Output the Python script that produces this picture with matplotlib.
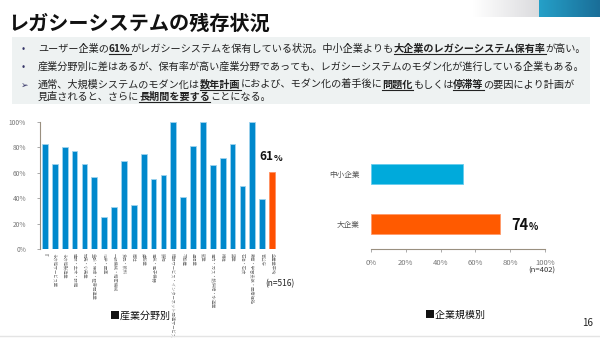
import matplotlib
matplotlib.use("Agg")
import matplotlib.pyplot as plt
import numpy as np

plt.rcParams['font.family'] = ['Noto Sans CJK JP', 'DejaVu Sans']

# 産業分野別 (n=516)
industries = ["IT", "その他サービス業", "その他製造業", "建設・土木・設備", "卸売・小売業",
              "金融・保険・証券関連業", "化学・医薬", "一般機械・精密機械", "食品・飲料", "商社",
              "運輸業", "電気・電子機器", "鉄鋼", "情報サービス・インターネット関連サービス",
              "不動産", "通信業", "鉱業", "電力・ガス・熱供給・水道業", "繊維", "窯業",
              "石油・石炭", "教育・学習支援・医療福祉", "官公庁", "全産業平均"]
industry_rates = [83, 67, 80, 77, 67, 57, 25, 33, 69, 35, 75, 55, 58, 100,
                  41, 81, 100, 66, 72, 83, 50, 100, 39, 61]

# 企業規模別 (n=402)
sizes = ["大企業", "中小企業"]
size_rates = [74, 53]

pct_ticks = [0, 20, 40, 60, 80, 100]

W, H = 600, 338
fig = plt.figure(figsize=(6, 3.38), dpi=100)
fig.patch.set_facecolor("white")


def fx(px):
    return px / W


def fy(py):
    return 1 - py / H


# top-right decoration
deco = fig.add_axes([fx(473), fy(17), fx(66), 17 / H])
grad = np.linspace(0, 1, 100)
deco.imshow(np.dstack([1 - 0.14 * grad, 1 - 0.14 * grad, 1 - 0.13 * grad]),
            aspect="auto", extent=[0, 1, 0, 1])
deco.axis("off")
deco2 = fig.add_axes([fx(539), fy(17), fx(61), 17 / H])
c1 = np.array([0x25, 0xA0, 0xC8]) / 255
c2 = np.array([0x1A, 0x6E, 0x98]) / 255
deco2.imshow((c1[None, :] * (1 - grad[:, None]) + c2[None, :] * grad[:, None])[None, :, :],
             aspect="auto", extent=[0, 1, 0, 1])
deco2.axis("off")

# title
fig.text(fx(8), fy(23), "レガシーシステムの残存状況", fontsize=14.5, fontweight="bold",
         va="center", ha="left", color="#111111")

# gray box
fig.patches.append(plt.Rectangle((fx(12), fy(104)), fx(578), 67 / H, transform=fig.transFigure,
                                 facecolor="#EEF2F2", edgecolor="none", zorder=0))

renderer = fig.canvas.get_renderer()


def rich_line(x, y, parts, size=7.3):
    for s, bold in parts:
        t = fig.text(fx(x), fy(y), s, fontsize=size, fontweight="bold" if bold else "normal",
                     va="baseline", ha="left", color="#222222")
        bb = t.get_window_extent(renderer)
        if bold:
            fig.lines.append(plt.Line2D([fx(x), fx(x + bb.width)], [fy(y + 2), fy(y + 2)],
                                        transform=fig.transFigure, color="#222222", lw=0.8))
        x += bb.width


fig.text(fx(22), fy(52), "•", fontsize=7, color="#333366", va="baseline")
rich_line(38, 52, [("ユーザー企業の", False), ("61%", True),
                   ("がレガシーシステムを保有している状況。中小企業よりも", False),
                   ("大企業のレガシーシステム保有率", True), ("が高い。", False)])
fig.text(fx(22), fy(70), "•", fontsize=7, color="#333366", va="baseline")
rich_line(38, 70, [("産業分野別に差はあるが、保有率が高い産業分野であっても、レガシーシステムのモダン化が進行している企業もある。", False)])
fig.text(fx(21), fy(88), "➢", fontsize=6.5, color="#333366", va="baseline")
rich_line(38, 88, [("通常、大規模システムのモダン化は", False), ("数年計画", True),
                   ("におよび、モダン化の着手後に", False), ("問題化", True),
                   ("もしくは", False), ("停滞等", True), ("の要因により計画が", False)])
rich_line(38, 100, [("見直されると、さらに", False), ("長期間を要する", True), ("ことになる。", False)])

# left chart: industries
ax1 = fig.add_axes([fx(40), fy(249), fx(237), 127 / H])
x = np.arange(len(industries))
colors = ["#0088CC"] * (len(industries) - 1) + ["#FF5000"]
edges = ["#9FD3EE"] * (len(industries) - 1) + ["#FF9060"]
ax1.bar(x, industry_rates, width=0.58, color=colors, edgecolor=edges, linewidth=0.6)
ax1.set_xlim(-0.5, len(industries) - 0.5)
ax1.set_ylim(0, 100)
ax1.set_yticks(pct_ticks)
ax1.set_yticklabels([f"{v}%" for v in pct_ticks], fontsize=4.8, color="#777777")
ax1.set_xticks(x)
ax1.set_xticklabels(industries, rotation=-90, fontsize=3.1, color="#777777", va="top", ha="center")
ax1.tick_params(axis="x", length=0, pad=3)
ax1.tick_params(axis="y", length=2, width=0.5, color="#888888", pad=8)
for s in ["top", "right", "bottom"]:
    ax1.spines[s].set_visible(False)
ax1.spines["left"].set_color("#9A9080")
ax1.spines["left"].set_linewidth(0.8)
ax1.set_facecolor("none")
last = len(industries) - 1
ax1.annotate(f"{industry_rates[last]}", (last, industry_rates[last]), xytext=(1, 6),
             textcoords="offset points", ha="right", va="bottom", fontsize=8.5,
             fontweight="bold", color="#111111")
ax1.annotate("%", (last, industry_rates[last]), xytext=(1, 6), textcoords="offset points",
             ha="left", va="bottom", fontsize=6.5, fontweight="bold", color="#111111")

fig.text(fx(265), fy(284), "(n=516)", fontsize=6, color="#222222", va="center")
fig.text(fx(140), fy(316), "■産業分野別", fontsize=7.2, color="#111111", ha="center", va="center")

# right chart: company size
ax2 = fig.add_axes([fx(371), fy(249), fx(174), 100 / H])
y = np.arange(len(sizes))
ax2.barh(y, size_rates, height=0.4, color=["#FF5A00", "#00AADB"],
         edgecolor=["#FF9A6A", "#66CCEE"], linewidth=0.6)
ax2.set_xlim(0, 100)
ax2.set_ylim(-0.5, 1.5)
ax2.set_xticks(pct_ticks)
ax2.set_xticklabels([f"{v}%" for v in pct_ticks], fontsize=5.5, color="#777777")
ax2.set_yticks(y)
ax2.set_yticklabels(sizes, fontsize=5.5, color="#555555")
ax2.tick_params(axis="y", length=0, pad=8)
ax2.tick_params(axis="x", length=2.5, width=0.5, color="#888888", pad=5)
for s in ["top", "right", "left"]:
    ax2.spines[s].set_visible(False)
ax2.spines["bottom"].set_color("#9A9080")
ax2.spines["bottom"].set_linewidth(0.8)
ax2.set_facecolor("none")
ax2.annotate(f"{size_rates[0]}", (size_rates[0], 0), xytext=(8, -1), textcoords="offset points",
             ha="left", va="center", fontsize=10.5, fontweight="bold", color="#111111")
ax2.annotate("%", (size_rates[0], 0), xytext=(21, -2), textcoords="offset points",
             ha="left", va="center", fontsize=7, fontweight="bold", color="#111111")

fig.text(fx(528), fy(271), "(n=402)", fontsize=5.5, color="#333333", va="center")
fig.text(fx(455), fy(315), "■企業規模別", fontsize=7.2, color="#111111", ha="center", va="center")

fig.text(fx(593), fy(323), "16", fontsize=7, color="#222222", ha="right", va="center")
fig.lines.append(plt.Line2D([0, 1], [fy(336), fy(336)], transform=fig.transFigure,
                            color="#E4E4E4", lw=1))

fig.savefig("out.png", dpi=100)
